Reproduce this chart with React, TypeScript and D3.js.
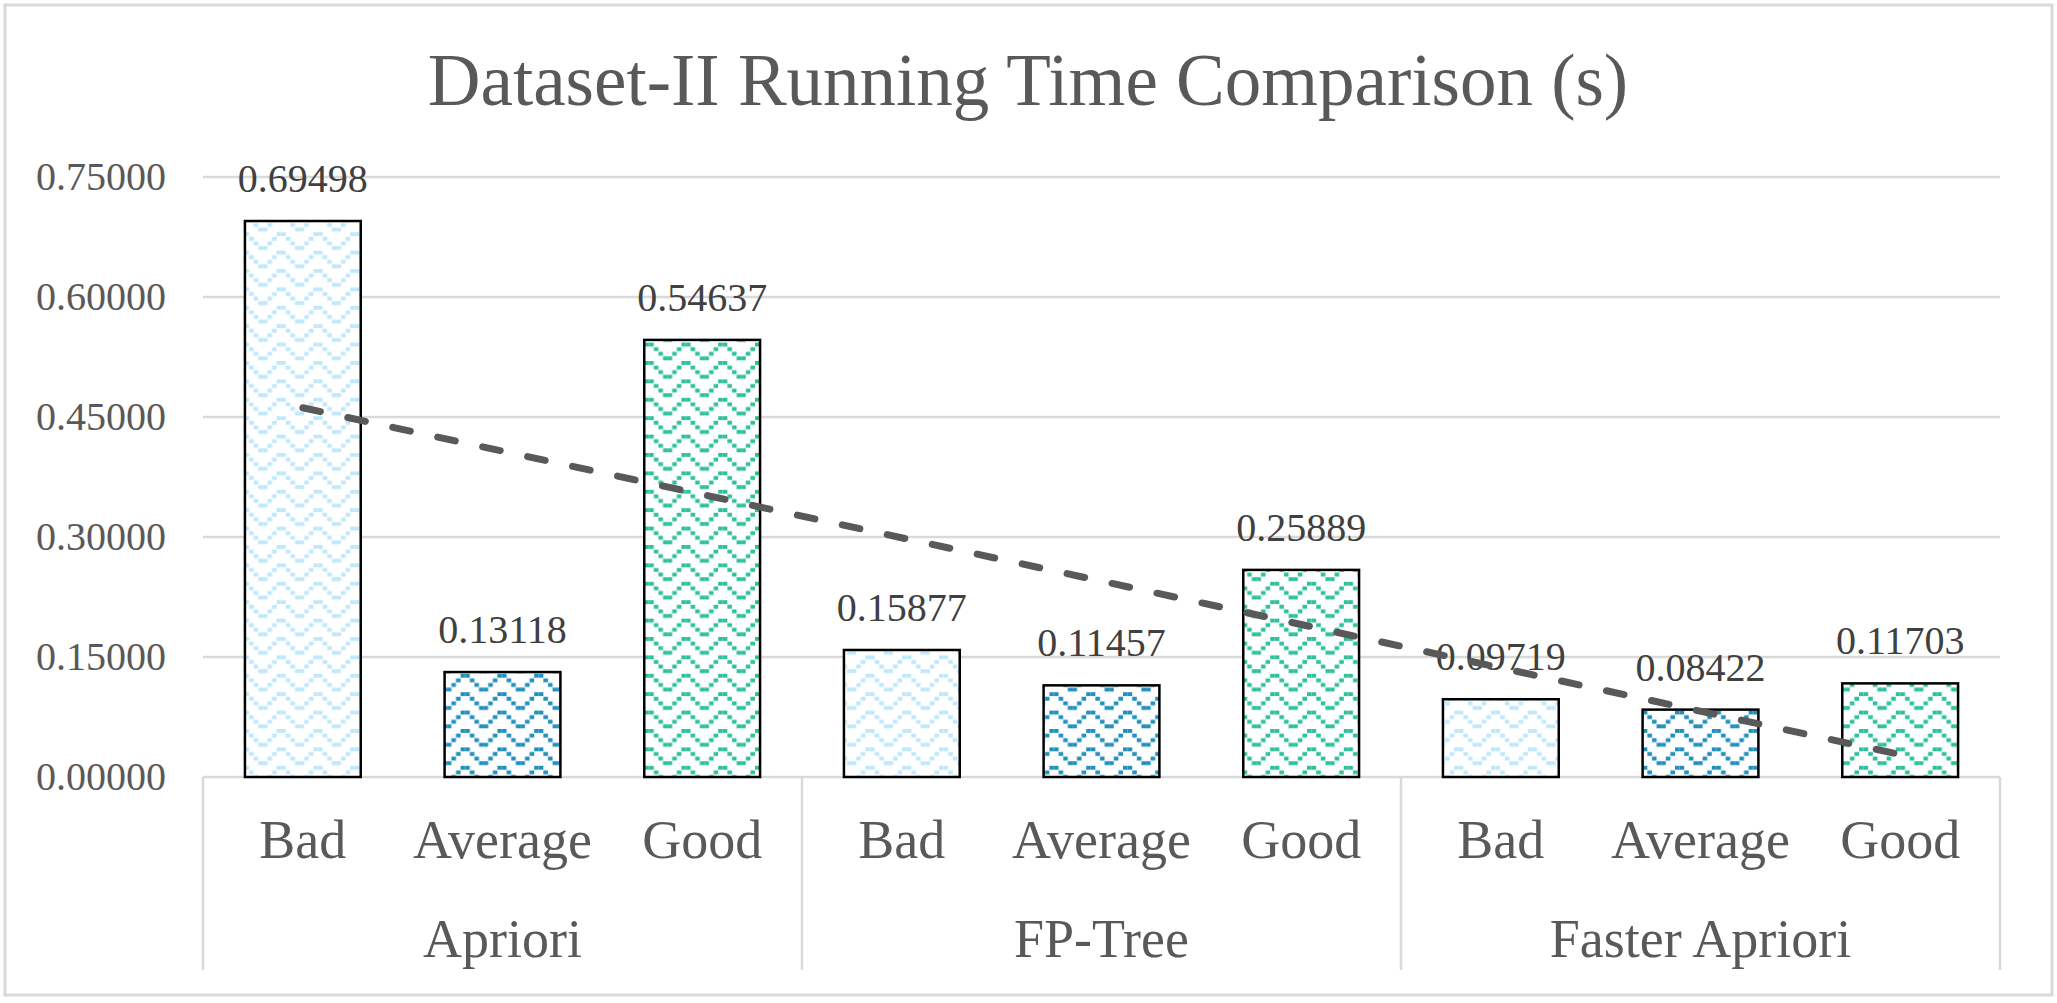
import React, { useEffect, useRef } from "react";
import * as d3 from "d3";

// 値
const algorithms = ["Apriori", "FP-Tree", "Faster Apriori"];
const cases = ["Bad", "Average", "Good"];
const aprioriTimes = [0.69498, 0.13118, 0.54637];
const fpTreeTimes = [0.15877, 0.11457, 0.25889];
const fasterAprioriTimes = [0.09719, 0.08422, 0.11703];
const yTicks = [0, 0.15, 0.3, 0.45, 0.6, 0.75];

const caseColors: Record<string, string> = {
  Bad: "#bfe8fb",
  Average: "#2290bd",
  Good: "#2fc19c",
};

interface Bar {
  key: string;
  algorithm: string;
  level: string;
  value: number;
}

export default function App() {
  const svgRef = useRef<SVGSVGElement>(null);
  const width = 2057;
  const height = 1003;

  useEffect(() => {
    if (!svgRef.current) return;
    document.body.style.margin = "0";

    const svg = d3.select(svgRef.current);
    svg.selectAll("*").remove();

    const series = [aprioriTimes, fpTreeTimes, fasterAprioriTimes];
    const bars: Bar[] = [];
    algorithms.forEach((alg, i) => {
      cases.forEach((c, j) => {
        bars.push({ key: `${alg}-${c}`, algorithm: alg, level: c, value: series[i][j] });
      });
    });

    const plot = { left: 203, right: 2000, top: 177, bottom: 777 };
    const font = "'Liberation Serif', 'Times New Roman', serif";

    // 波模様のパターン（8x4 のドット）
    const defs = svg.append("defs");
    const u = 4.6;
    const wave: [number, number][] = [
      [0, 0], [1, 0], [2, 1], [3, 2], [4, 3], [5, 3], [6, 2], [7, 1],
    ];
    cases.forEach((c) => {
      const p = defs
        .append("pattern")
        .attr("id", `wave-${c}`)
        .attr("patternUnits", "userSpaceOnUse")
        .attr("x", plot.left)
        .attr("y", plot.top)
        .attr("width", 8 * u)
        .attr("height", 4 * u);
      p.append("rect")
        .attr("width", 8 * u)
        .attr("height", 4 * u)
        .attr("fill", "#ffffff");
      wave.forEach(([cx, cy]) => {
        p.append("rect")
          .attr("x", cx * u)
          .attr("y", cy * u)
          .attr("width", u)
          .attr("height", u * 0.85)
          .attr("fill", caseColors[c]);
      });
    });

    // 外枠
    svg
      .append("rect")
      .attr("x", 5)
      .attr("y", 5)
      .attr("width", 2047)
      .attr("height", 990)
      .attr("fill", "#ffffff")
      .attr("stroke", "#d9d9d9")
      .attr("stroke-width", 3);

    // スケール
    const xScale = d3
      .scaleBand<string>()
      .domain(bars.map((d) => d.key))
      .range([plot.left, plot.right])
      .paddingInner(0.42)
      .paddingOuter(0.21);

    const yScale = d3
      .scaleLinear()
      .domain([0, 0.75])
      .range([plot.bottom, plot.top]);

    // グリッド線
    svg
      .append("g")
      .selectAll("line")
      .data(yTicks)
      .enter()
      .append("line")
      .attr("x1", plot.left)
      .attr("x2", plot.right)
      .attr("y1", (d) => yScale(d))
      .attr("y2", (d) => yScale(d))
      .attr("stroke", "#d9d9d9")
      .attr("stroke-width", 2.5);

    // Y軸ラベル
    svg
      .append("g")
      .selectAll("text")
      .data(yTicks)
      .enter()
      .append("text")
      .attr("x", 166)
      .attr("y", (d) => yScale(d) + 13)
      .attr("text-anchor", "end")
      .attr("fill", "#595959")
      .style("font-family", font)
      .style("font-size", "40px")
      .text((d) => d.toFixed(5));

    // カテゴリ区切り
    const step = xScale.step();
    const separators = d3.range(algorithms.length + 1).map((i) => plot.left + i * 3 * step);
    svg
      .append("g")
      .selectAll("line")
      .data(separators)
      .enter()
      .append("line")
      .attr("x1", (d) => d)
      .attr("x2", (d) => d)
      .attr("y1", plot.bottom)
      .attr("y2", 970)
      .attr("stroke", "#d9d9d9")
      .attr("stroke-width", 2.5);

    // 棒
    svg
      .append("g")
      .selectAll("rect")
      .data(bars)
      .enter()
      .append("rect")
      .attr("x", (d) => xScale(d.key) || 0)
      .attr("y", (d) => yScale(d.value))
      .attr("width", xScale.bandwidth())
      .attr("height", (d) => yScale(0) - yScale(d.value))
      .attr("fill", (d) => `url(#wave-${d.level})`)
      .attr("stroke", "#000000")
      .attr("stroke-width", 2.5);

    // データラベル
    svg
      .append("g")
      .selectAll("text")
      .data(bars)
      .enter()
      .append("text")
      .attr("x", (d) => (xScale(d.key) || 0) + xScale.bandwidth() / 2)
      .attr("y", (d) => yScale(d.value) - 29)
      .attr("text-anchor", "middle")
      .attr("fill", "#404040")
      .style("font-family", font)
      .style("font-size", "40px")
      .text((d) => d.value.toFixed(5));

    // ケースラベル
    svg
      .append("g")
      .selectAll("text")
      .data(bars)
      .enter()
      .append("text")
      .attr("x", (d) => (xScale(d.key) || 0) + xScale.bandwidth() / 2)
      .attr("y", 858)
      .attr("text-anchor", "middle")
      .attr("fill", "#595959")
      .style("font-family", font)
      .style("font-size", "54px")
      .text((d) => d.level);

    // アルゴリズムラベル
    svg
      .append("g")
      .selectAll("text")
      .data(algorithms)
      .enter()
      .append("text")
      .attr("x", (_, i) => plot.left + (i * 3 + 1.5) * step)
      .attr("y", 957)
      .attr("text-anchor", "middle")
      .attr("fill", "#595959")
      .style("font-family", font)
      .style("font-size", "54px")
      .text((d) => d);

    // 線形トレンドライン（最小二乗法）
    const xs = bars.map((_, i) => i + 1);
    const ys = bars.map((d) => d.value);
    const mx = d3.mean(xs) || 0;
    const my = d3.mean(ys) || 0;
    const sxy = d3.sum(xs, (x, i) => (x - mx) * (ys[i] - my));
    const sxx = d3.sum(xs, (x) => (x - mx) * (x - mx));
    const slope = sxy / sxx;
    const intercept = my - slope * mx;
    const ends = [bars[0], bars[bars.length - 1]].map((b, k) => {
      const xi = k === 0 ? 1 : bars.length;
      return { b, v: intercept + slope * xi };
    });

    const line = d3
      .line<{ b: Bar; v: number }>()
      .x((d) => (xScale(d.b.key) || 0) + xScale.bandwidth() / 2)
      .y((d) => yScale(d.v));

    svg
      .append("path")
      .datum(ends)
      .attr("fill", "none")
      .attr("stroke", "#595959")
      .attr("stroke-width", 7)
      .attr("stroke-linecap", "round")
      .attr("stroke-dasharray", "18 28")
      .attr("d", line);

    // タイトル
    svg
      .append("text")
      .attr("x", 1028)
      .attr("y", 105)
      .attr("text-anchor", "middle")
      .attr("fill", "#595959")
      .style("font-family", font)
      .style("font-size", "73px")
      .text("Dataset-II Running Time Comparison (s)");
  }, []);

  return (
    <div style={{ position: "absolute", left: 0, top: 0 }}>
      <svg ref={svgRef} width={width} height={height} style={{ display: "block" }} />
    </div>
  );
}
